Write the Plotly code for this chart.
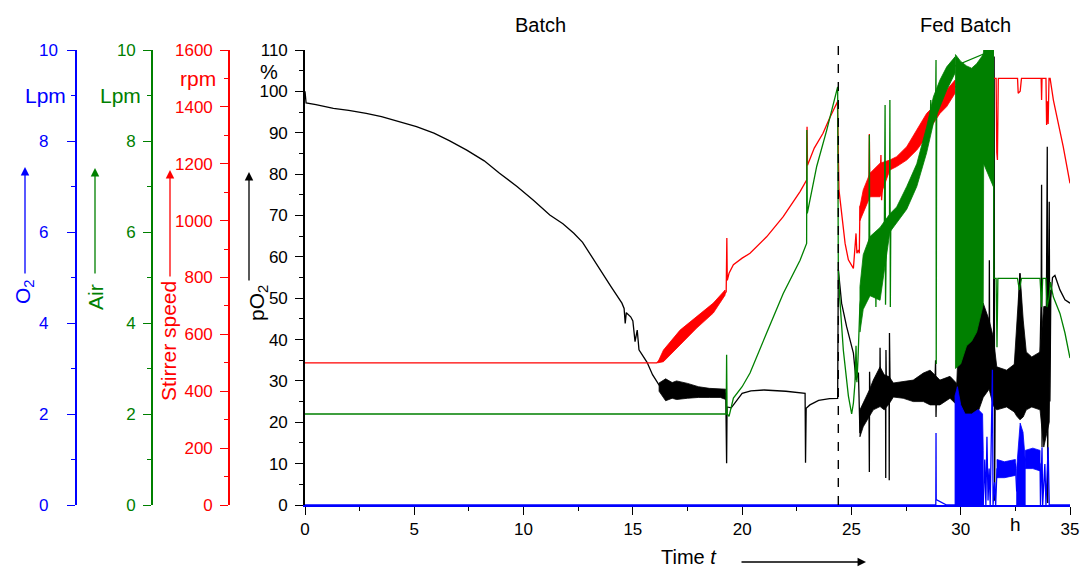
import plotly.graph_objects as go

# ---------------- data ----------------
# pO2 [%] (black): (time h, value)
po2_line = [(0, 100), (0.05, 97.2), (0.5, 96.8), (1.3, 95.9), (2.0, 95.4), (2.8, 94.7), (3.5, 93.9),
            (4.35, 92.7), (5.1, 91.5), (5.9, 89.9), (6.6, 88.1), (7.4, 85.8), (8.2, 83.2), (8.9, 80.2),
            (9.7, 77.0), (10.45, 73.7), (11.2, 70.1), (11.8, 68.0), (12.3, 65.7), (12.7, 63.5),
            (13.0, 61.0), (13.5, 56.8), (14.0, 52.8), (14.5, 48.8), (14.6, 47.5), (14.65, 43.9),
            (14.7, 46.5), (14.9, 45.5), (15.0, 44.5), (15.1, 39.5), (15.2, 42.3), (15.28, 37.5),
            (15.45, 36.0), (15.65, 34.5), (15.9, 31.5), (16.2, 29.0), (16.5, 27.8), (17.5, 27.5),
            (18.5, 27.2), (19.25, 27.0), (19.29, 10.1), (19.31, 23.7), (19.5, 23.5), (19.7, 25.0),
            (20.0, 27.0), (20.4, 27.6), (21.0, 27.8), (22.0, 27.5), (22.88, 27.0), (22.9, 10.2),
            (22.93, 23.4), (23.1, 24.2), (23.5, 25.3), (24.0, 25.7), (24.37, 25.8), (24.4, 57.0),
            (24.55, 48.8), (24.78, 43.1), (25.01, 38.3), (25.09, 36.7), (25.21, 30.2), (25.32, 32.0),
            (25.39, 17.4), (25.5, 21.0), (25.8, 24.5), (25.82, 8.0), (25.83, 32.2), (25.86, 25.0),
            (26.3, 28.0), (26.31, 38.0), (26.33, 27.0), (26.56, 28.0), (26.57, 6.5), (26.58, 37.5),
            (26.6, 28.0), (26.72, 28.0), (26.73, 6.0), (26.74, 41.6), (26.77, 28.0), (27.4, 27.8),
            (28.3, 28.5), (28.82, 29.0), (28.85, 35.0), (28.87, 21.3), (28.9, 28.5), (29.5, 28.5),
            (29.82, 27.0), (30.0, 32.0), (30.5, 31.0), (31.0, 36.0), (31.3, 35.0), (31.31, 59.2),
            (31.33, 30.0), (31.5, 32.0), (31.53, 108.4), (31.55, 1.0), (31.58, 29.0), (32.0, 28.0),
            (32.4, 29.0), (32.6, 40.0), (32.71, 56.0), (32.8, 40.0), (33.0, 28.0), (33.6, 29.0),
            (33.68, 50.0), (33.7, 77.4), (33.72, 14.0), (33.75, 40.0), (33.8, 20.0), (33.85, 45.0),
            (33.9, 30.0), (33.96, 86.6), (33.98, 0.5), (34.0, 45.0), (34.05, 73.3), (34.08, 25.0),
            (34.12, 50.0), (34.2, 55.0), (34.31, 55.5), (34.54, 52.0), (34.77, 49.6), (35.0, 48.8)]
# noisy ranges: (time, low, high)
po2_noise_batch = [(16.2, 27.5, 29.5), (16.5, 25.2, 30.5), (16.8, 25.8, 29.6), (17.0, 25.5, 30.0),
                   (17.5, 25.8, 29.4), (18.0, 26.0, 28.6), (18.5, 26.0, 28.2), (19.0, 26.0, 28.0),
                   (19.25, 25.5, 28.0)]
po2_noise_fed1 = [(25.39, 16.5, 23.0), (25.54, 18.9, 24.6), (25.82, 21.3, 27.8), (26.0, 23.0, 30.2),
                  (26.31, 23.8, 33.4), (26.5, 23.0, 31.5), (26.73, 24.5, 31.0), (26.92, 26.1, 29.5),
                  (27.37, 25.8, 29.8), (27.83, 25.0, 30.2), (28.29, 25.0, 31.9), (28.6, 24.2, 32.6),
                  (29.05, 24.2, 30.2), (29.51, 25.8, 31.1), (29.82, 24.2, 29.4)]
po2_noise_fed2 = [(29.82, 23.7, 29.5), (29.9, 20.6, 40.6), (30.27, 21.0, 44.7), (30.5, 20.5, 42.0),
                  (30.73, 21.5, 43.1), (31.03, 26.0, 48.8), (31.3, 28.0, 44.7), (31.49, 24.0, 40.6),
                  (31.65, 23.0, 33.4), (32.1, 23.7, 32.6), (32.45, 22.5, 34.0), (32.56, 21.5, 44.0),
                  (32.71, 20.6, 56.0), (32.86, 21.3, 44.7), (33.0, 23.0, 37.0), (33.25, 23.7, 35.8),
                  (33.63, 23.0, 37.0), (33.8, 14.0, 48.0), (34.05, 20.0, 48.0), (34.1, 40.0, 52.0)]

# Stirrer speed [rpm] (red)
rpm_line = [(0, 500), (16.1, 500), (16.4, 520), (17.16, 590), (17.92, 642), (18.68, 692), (19.22, 745),
            (19.27, 750), (19.3, 939), (19.32, 790), (19.4, 815), (19.6, 845), (20.0, 868), (20.36, 885),
            (21.12, 943), (21.88, 1014), (22.65, 1102), (22.95, 1143), (22.97, 1330), (22.99, 1195),
            (23.3, 1255), (23.7, 1307), (24.0, 1360), (24.36, 1418), (24.43, 1108), (24.55, 1026),
            (24.71, 920), (24.86, 862), (25.09, 832), (25.21, 955), (25.25, 885), (25.32, 897),
            (25.36, 885), (25.39, 1049), (25.54, 1070), (25.8, 1120), (25.82, 1305), (25.84, 1125),
            (26.31, 1140), (26.35, 1231), (26.38, 1072), (26.45, 1150), (26.76, 1195), (27.07, 1208),
            (27.53, 1236), (27.99, 1283), (28.44, 1336), (28.75, 1372), (29.05, 1406), (29.36, 1430),
            (29.74, 1470), (30.5, 1500), (31.62, 1500), (31.65, 1240), (31.68, 1213), (31.72, 1500),
            (32.6, 1500), (32.63, 1448), (32.72, 1455), (32.78, 1500), (33.68, 1500), (33.7, 1424),
            (33.72, 1500), (33.9, 1500), (33.93, 1336), (33.97, 1420), (34.0, 1340), (34.04, 1500),
            (34.09, 1500), (34.24, 1424), (34.47, 1342), (34.69, 1260), (35.0, 1131)]
rpm_noise_batch = [(16.16, 500, 505), (16.4, 504, 545), (17.16, 563, 615), (17.92, 622, 661),
                   (18.68, 675, 710), (19.22, 738, 756)]
rpm_noise_fed = [(25.39, 1000, 1049), (25.54, 1026, 1108), (25.85, 1084, 1167), (26.31, 1084, 1202),
                 (26.76, 1178, 1213), (27.07, 1190, 1225), (27.53, 1213, 1260), (27.99, 1248, 1319),
                 (28.44, 1295, 1377), (28.75, 1342, 1401), (29.05, 1377, 1436), (29.36, 1401, 1460),
                 (29.74, 1448, 1494)]

# Air [Lpm] (green)
air_line = [(0, 2.0), (19.27, 2.0), (19.29, 3.3), (19.31, 2.0), (19.4, 1.95), (19.6, 2.35), (20.0, 2.6),
            (20.36, 2.9), (21.12, 3.78), (21.88, 4.65), (22.65, 5.38), (22.95, 5.75), (22.96, 8.24),
            (22.98, 6.41), (23.41, 7.44), (23.87, 8.24), (24.37, 9.19), (24.4, 5.2), (24.46, 4.58),
            (24.63, 3.4), (24.86, 2.4), (25.01, 2.0), (25.09, 2.24), (25.16, 2.67), (25.21, 3.5),
            (25.25, 2.7), (25.3, 3.2), (25.39, 4.4), (25.54, 4.9), (25.8, 5.2), (25.82, 8.13),
            (25.84, 5.2), (26.1, 5.4), (26.12, 4.35), (26.15, 5.5), (26.5, 5.6), (26.54, 8.79),
            (26.56, 4.4), (26.6, 5.9), (26.74, 6.0), (26.76, 8.9), (26.78, 4.35), (26.8, 6.2),
            (27.07, 6.4), (27.53, 6.75), (27.99, 7.25), (28.44, 8.0), (28.6, 8.2), (28.63, 8.9),
            (28.66, 8.3), (28.85, 8.7), (28.87, 9.78), (28.88, 3.1), (28.9, 8.8), (29.05, 9.05),
            (29.36, 9.4), (29.74, 9.65), (31.03, 9.9), (31.49, 10.0), (31.52, 4.98), (31.62, 4.98),
            (31.66, 3.47), (31.7, 4.98), (32.6, 4.98), (32.68, 4.73), (32.78, 4.98), (33.63, 4.98),
            (33.7, 4.35), (33.75, 4.98), (33.9, 4.98), (33.95, 4.35), (34.05, 4.6), (34.1, 4.9),
            (34.24, 4.57), (34.54, 4.21), (34.77, 3.78), (35.0, 3.23)]
air_noise_fed = [(25.39, 3.8, 4.8), (25.54, 4.3, 5.5), (25.85, 4.6, 5.9), (26.31, 4.5, 6.1),
                 (26.76, 6.0, 6.4), (27.07, 6.2, 6.55), (27.53, 6.5, 7.0), (27.99, 7.0, 7.5),
                 (28.44, 7.74, 8.31), (28.75, 8.39, 8.97), (29.05, 8.75, 9.34), (29.36, 9.12, 9.63),
                 (29.74, 9.49, 9.85)]
air_noise_osc = [(29.76, 3.0, 9.9), (30.0, 3.1, 9.75), (30.27, 3.5, 9.65), (30.5, 3.6, 9.6),
                 (30.73, 3.8, 9.7), (31.03, 4.4, 9.9), (31.05, 7.5, 10.0), (31.49, 7.0, 10.0)]

# O2 [Lpm] (blue)
o2_line = [(0, 0), (28.86, 0), (28.87, 1.58), (28.88, 0.12), (29.35, 0.0), (31.03, 0), (31.1, 1.0),
           (31.15, 0), (31.2, 1.5), (31.25, 0.1), (31.3, 0.8), (31.35, 0), (31.45, 2.97), (31.48, 0),
           (31.55, 0.5), (31.6, 0), (31.66, 0.8), (31.8, 0.75), (32.0, 0.8), (32.2, 0.85), (32.5, 0.9),
           (32.56, 0.3), (32.95, 1.0), (33.2, 1.1), (33.5, 1.05), (33.63, 0.9), (33.65, 0), (33.72, 1.27),
           (33.75, 0), (33.85, 0.9), (33.9, 0), (34.0, 1.27), (34.05, 0), (35.0, 0)]
o2_noise_1 = [(29.74, 0, 2.4), (29.85, 0, 2.6), (30.0, 0, 2.2), (30.2, 0, 2.0), (30.5, 0, 2.0),
              (30.8, 0, 2.1), (31.0, 0, 2.0), (31.03, 0, 1.2)]
o2_noise_2 = [(31.66, 0.6, 1.0), (32.0, 0.6, 0.95), (32.5, 0.65, 1.0)]
o2_noise_3 = [(32.56, 0, 0.8), (32.65, 0, 1.5), (32.72, 0, 1.8), (32.85, 0, 1.6), (32.95, 0, 1.0)]
o2_noise_4 = [(32.95, 0.8, 1.2), (33.3, 0.8, 1.25), (33.63, 0.75, 1.2)]

phase_switch = 24.4
x_ticks = [0, 5, 10, 15, 20, 25, 30, 35]
o2_ticks = [0, 2, 4, 6, 8, 10]

# ---------------- styling ----------------
W, H = 1081, 570
MT, MB = 50, 65
FONT = "Arial, Liberation Sans, sans-serif"
BLUE, GREEN, RED, BLACK = "#0000FF", "#008000", "#FF0000", "#000000"


def px_x(px):
    return px / W


def px_y(py):
    return (H - MB - py) / (H - MT - MB)


def unzip(pairs):
    return [p[0] for p in pairs], [p[1] for p in pairs]


def band(rows):
    t = [r[0] for r in rows]
    lo = [r[1] for r in rows]
    hi = [r[2] for r in rows]
    return t + t[::-1] + [t[0]], hi + lo[::-1] + [hi[0]]


fig = go.Figure()


def add_line(pairs, color, axis):
    t, v = unzip(pairs)
    fig.add_trace(go.Scatter(x=t, y=v, mode="lines", yaxis=axis, hoverinfo="skip",
                             line=dict(color=color, width=1.3)))


def add_band(rows, color, axis):
    t, v = band(rows)
    fig.add_trace(go.Scatter(x=t, y=v, mode="lines", yaxis=axis, fill="toself", fillcolor=color,
                             hoverinfo="skip", line=dict(color=color, width=0.8)))


add_line(rpm_line, RED, "y2")
add_band(rpm_noise_batch, RED, "y2")
add_band(rpm_noise_fed, RED, "y2")

add_line(air_line, GREEN, "y3")
add_band(air_noise_fed, GREEN, "y3")
add_band(air_noise_osc, GREEN, "y3")

add_line(po2_line, BLACK, "y")
add_band(po2_noise_batch, BLACK, "y")
add_band(po2_noise_fed1, BLACK, "y")
add_band(po2_noise_fed2, BLACK, "y")

add_line(o2_line, BLUE, "y4")
for rows in (o2_noise_1, o2_noise_2, o2_noise_3, o2_noise_4):
    add_band(rows, BLUE, "y4")


def yax(color, rng, dtick, minor, pos=None, overlay=True, labels=True):
    d = dict(range=rng, dtick=dtick, tick0=0, showgrid=False, zeroline=False, automargin=False,
             showline=True, linecolor=color, linewidth=1.6, showticklabels=labels,
             ticks="outside", ticklen=8, tickwidth=1.4, tickcolor=color,
             tickfont=dict(family=FONT, size=17, color=color), ticklabelstandoff=4,
             minor=dict(ticks="outside", ticklen=4, tickwidth=1.4, tickcolor=color, dtick=minor, tick0=0,
                        showgrid=False))
    if overlay:
        d.update(overlaying="y", anchor="free", position=pos)
    else:
        d.update(anchor="x")
    return d


fig.update_layout(
    width=W, height=H, margin=dict(l=0, r=0, t=MT, b=MB, autoexpand=False),
    paper_bgcolor="white", plot_bgcolor="white", showlegend=False,
    font=dict(family=FONT, color=BLACK),
    xaxis=dict(domain=[px_x(305), px_x(1070)], range=[0, 35], tickvals=x_ticks, automargin=False,
               showgrid=False, zeroline=False, showline=True, linecolor=BLUE, linewidth=2,
               ticks="outside", ticklen=8, tickwidth=1.4, tickcolor=BLACK,
               tickfont=dict(family=FONT, size=17, color=BLACK),
               minor=dict(ticks="outside", ticklen=4, tickwidth=1.4, tickcolor=BLACK, dtick=2.5, tick0=0,
                          showgrid=False),
               anchor="y"),
    yaxis=yax(BLACK, [0, 110], 10, 5, overlay=False),
    yaxis2=yax(RED, [0, 1600], 200, 100, px_x(229)),
    yaxis3=yax(GREEN, [0, 10], 2, 1, px_x(152)),
    yaxis4=yax(BLUE, [0, 10], 2, 1, px_x(76), labels=False),
)

fig.add_shape(type="line", xref="x", yref="paper", x0=phase_switch, x1=phase_switch, y0=0, y1=px_y(39),
              line=dict(color=BLACK, width=1.4, dash="dash"))

ann = []


def text(x, y, s, color=BLACK, size=20, angle=0, xanchor="center", xref="paper", yref="paper",
         yanchor="middle"):
    ann.append(dict(x=x, y=y, xref=xref, yref=yref, text=s, showarrow=False, textangle=angle,
                    xanchor=xanchor, yanchor=yanchor, font=dict(family=FONT, size=size, color=color)))


def arrow(hx, hy, tx, ty, color):
    ann.append(dict(x=px_x(hx), y=px_y(hy), xref="paper", yref="paper", ax=tx - hx, ay=ty - hy,
                    axref="pixel", ayref="pixel", text="", showarrow=True, arrowhead=2, arrowsize=1.3,
                    arrowwidth=1.3, arrowcolor=color))


# O2 tick labels (left aligned in the reference)
for v in o2_ticks:
    text(px_x(37), v, str(v), BLUE, 17, xanchor="left", yref="y4")

text(px_x(540), px_y(25), "Batch")
text(px_x(965), px_y(25), "Fed Batch")
# axis units
text(px_x(68), 9, "Lpm", BLUE, 21, xanchor="right", yref="y4")
text(px_x(143), 9, "Lpm", GREEN, 21, xanchor="right", yref="y3")
text(px_x(218), 1500, "rpm", RED, 21, xanchor="right", yref="y2")
text(px_x(269), 104.8, "%", BLACK, 20, yref="y")
text(32.5, px_y(524), "h", BLACK, 19, xref="x")
# axis titles (rotated) with arrows
text(px_x(24), px_y(292), "O<sub>2</sub>", BLUE, 21, angle=-90)
arrow(25, 167, 25, 275, BLUE)
text(px_x(95), px_y(297), "Air", GREEN, 21, angle=-90)
arrow(95, 168, 95, 275, GREEN)
text(px_x(168), px_y(341), "Stirrer speed", RED, 21, angle=-90)
arrow(170, 170, 170, 278, RED)
text(px_x(258), px_y(303), "pO<sub>2</sub>", BLACK, 21, angle=-90)
arrow(249, 172, 249, 282, BLACK)
text(px_x(689), px_y(570), "Time <i>t</i>", BLACK, 20, yanchor="bottom")
arrow(866, 562, 740, 562, BLACK)

fig.update_layout(annotations=ann)
fig.write_html("out.html")
